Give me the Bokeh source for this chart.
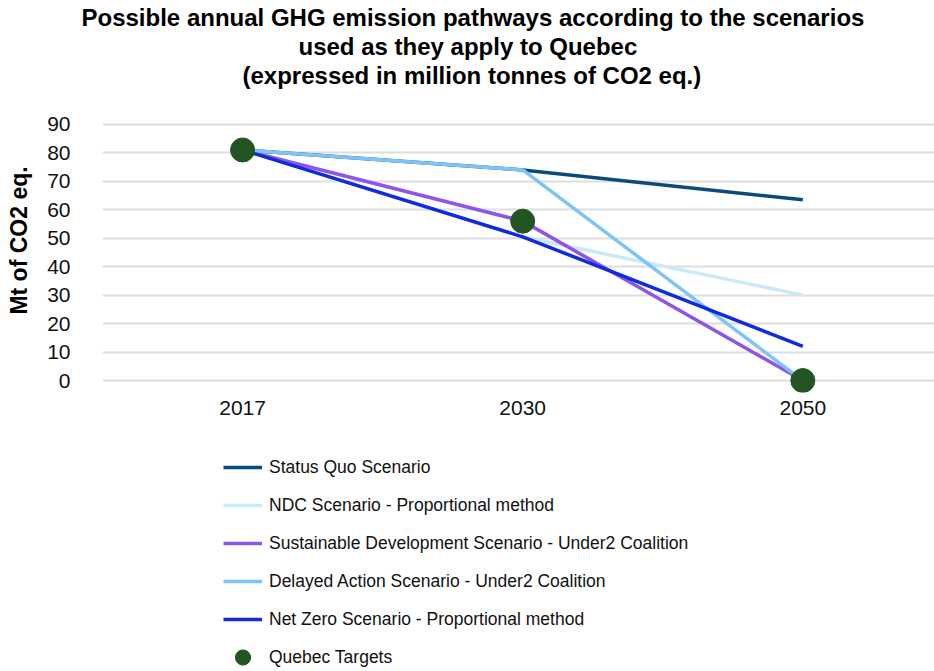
from bokeh.plotting import figure
from bokeh.models import Range1d, FixedTicker, Legend, LegendItem, Title
from bokeh.layouts import column
from bokeh.embed import file_html
from bokeh.resources import INLINE

# ---- data ----
years = ["2017", "2030", "2050"]
x_idx = [0, 1, 2]
status_quo = [81, 74, 63.5]
ndc = [81, 50.5, 30]
sustainable = [81, 56, 0]
delayed = [81, 74, 0]
net_zero = [81, 50.5, 12]
quebec_targets = [81, 56, 0]
series_names = [
    "Status Quo Scenario",
    "NDC Scenario - Proportional method",
    "Sustainable Development Scenario - Under2 Coalition",
    "Delayed Action Scenario - Under2 Coalition",
    "Net Zero Scenario - Proportional method",
]
target_name = "Quebec Targets"
y_ticks = [0, 10, 20, 30, 40, 50, 60, 70, 80, 90]
title_lines = [
    "Possible annual GHG emission pathways according to the scenarios",
    "used  as they apply to Quebec",
    "(expressed in million tonnes of CO2 eq.)",
]
y_title = "Mt of CO2 eq."

# ---- styles ----
colors = ["#0C4A7A", "#CCE9FB", "#8E55E9", "#7DC5F9", "#0F2BE0"]
target_color = "#235523"
FONT = "Liberation Sans"
title_left = [81, 298, 242]

p = figure(width=934, height=430, output_backend="svg", toolbar_location=None,
           x_range=Range1d(-0.5, 2.47), y_range=Range1d(-4.2, 102.6),
           min_border_left=102, min_border_right=0, min_border_top=88,
           min_border_bottom=38)
p.outline_line_color = None
p.background_fill_color = "white"
p.border_fill_color = "white"

p.xgrid.visible = False
p.ygrid.grid_line_color = "#DEDEDE"
p.ygrid.grid_line_width = 2
p.ygrid.ticker = FixedTicker(ticks=y_ticks)

p.yaxis.ticker = FixedTicker(ticks=y_ticks)
p.xaxis.ticker = FixedTicker(ticks=x_idx)
p.xaxis.major_label_overrides = {i: y for i, y in zip(x_idx, years)}
for ax in (p.xaxis, p.yaxis):
    ax.axis_line_color = None
    ax.major_tick_line_color = None
    ax.minor_tick_line_color = None
    ax.major_tick_out = 0
    ax.major_label_text_font = FONT
    ax.major_label_text_font_size = "21px"
    ax.major_label_text_color = "#111111"
p.yaxis.major_label_standoff = 32
p.xaxis.major_label_standoff = 8
p.yaxis.axis_label = y_title
p.yaxis.axis_label_text_font = FONT
p.yaxis.axis_label_text_font_style = "bold"
p.yaxis.axis_label_text_font_size = "23px"
p.yaxis.axis_label_text_color = "#000000"
p.yaxis.axis_label_standoff = 12

series = [status_quo, ndc, sustainable, delayed, net_zero]
for vals, c in zip(series, colors):
    p.line(x_idx, vals, line_color=c, line_width=3.5)
p.scatter(x_idx, quebec_targets, size=24, fill_color=target_color,
          line_color=target_color)

for t, left in reversed(list(zip(title_lines, title_left))):
    p.add_layout(Title(text=t, align="left", offset=left - 102, standoff=0,
                       text_font=FONT, text_font_style="bold",
                       text_font_size="24px", text_color="#000000"), "above")

# ---- legend panel (its own figure; series drawn out of view) ----
q = figure(width=934, height=241, output_backend="svg", toolbar_location=None,
           x_range=Range1d(100, 101), y_range=Range1d(1000, 1001),
           x_axis_type=None, y_axis_type=None,
           min_border_left=0, min_border_right=0, min_border_top=0,
           min_border_bottom=0)
q.outline_line_color = None
q.xgrid.visible = False
q.ygrid.visible = False
items = []
for name, vals, c in zip(series_names, series, colors):
    r = q.line(x_idx, vals, line_color=c, line_width=3.5)
    items.append(LegendItem(label=name, renderers=[r]))
rt = q.scatter(x_idx, quebec_targets, size=17, fill_color=target_color,
               line_color=target_color)
items.append(LegendItem(label=target_name, renderers=[rt]))
legend = Legend(items=items, location=(121, -5), orientation="vertical",
                border_line_color=None, background_fill_alpha=0,
                padding=0, margin=0, spacing=0, label_height=38,
                glyph_height=38, glyph_width=39, label_standoff=7,
                label_text_font=FONT, label_text_font_size="17.5px",
                label_text_color="#111111")
q.add_layout(legend, "center")

open("out.html", "w").write(file_html(column(p, q, spacing=0), INLINE))
